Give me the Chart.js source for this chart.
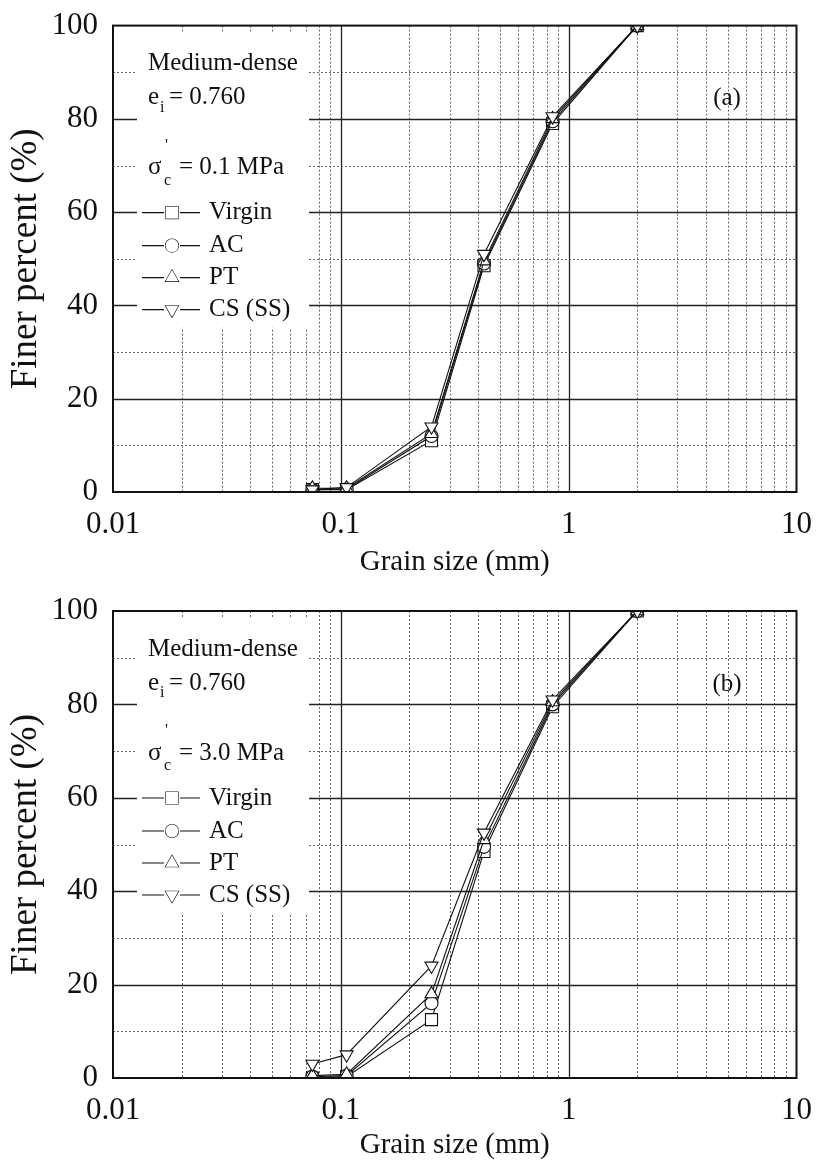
<!DOCTYPE html>
<html>
<head>
<meta charset="utf-8">
<script src="https://cdn.jsdelivr.net/npm/chart.js@4/dist/chart.umd.min.js"></script>
<style>
  html, body { margin: 0; padding: 0; background: #fff; }
  canvas { display: block; }
</style>
</head>
<body>
<canvas id="panelA" width="818" height="584"></canvas>
<canvas id="panelB" width="818" height="583"></canvas>
<script>
// grain sizes of the sieves (mm)
const grainSizes = [0.075, 0.106, 0.25, 0.425, 0.85, 2.0];
const seriesNames = ["Virgin", "AC", "PT", "CS (SS)"];

// (a) sigma'c = 0.1 MPa
const virginA = [0.5, 0.5, 11, 48.5, 79, 100];
const acA     = [0.5, 0.6, 12, 49, 79.5, 100];
const ptA     = [0.8, 0.8, 12.5, 49.5, 80, 100];
const csA     = [0.5, 1, 14, 51, 80.5, 100];

// (b) sigma'c = 3.0 MPa
const virginB = [0, 0.3, 12.5, 48.5, 79.5, 100];
const acB     = [0.3, 0.5, 16, 49.5, 80, 100];
const ptB     = [0.5, 0.8, 18, 51, 80.5, 100];
const csB     = [3, 5, 24, 52.5, 81, 100];

const xTickLabels = ["0.01", "0.1", "1", "10"];
const yTickLabels = [0, 20, 40, 60, 80, 100];

const FONT = '"Liberation Serif", "DejaVu Serif", serif';

// marker look for each series
const markers = [
  { pointStyle: "rect", radius: 8.5, rotation: 0 },
  { pointStyle: "circle", radius: 6.5, rotation: 0 },
  { pointStyle: "triangle", radius: 7.5, rotation: 0 },
  { pointStyle: "triangle", radius: 7.5, rotation: 180 }
];

// grid, white legend box, notes and frame
const notesPlugin = {
  id: "notes",
  beforeDatasetsDraw(chart, args, opts) {
    const { ctx, chartArea: a, scales } = chart;
    const xs = scales.x, ys = scales.y;
    ctx.save();
    // minor grid, dotted
    ctx.strokeStyle = "#666";
    ctx.lineWidth = 1;
    ctx.setLineDash([2, 2]);
    ctx.beginPath();
    [0.01, 0.1, 1].forEach(d => {
      for (let m = 2; m <= 9; m++) {
        const px = Math.round(xs.getPixelForValue(d * m)) + 0.5;
        ctx.moveTo(px, a.top); ctx.lineTo(px, a.bottom);
      }
    });
    [10, 30, 50, 70, 90].forEach(v => {
      const py = Math.round(ys.getPixelForValue(v)) + 0.5;
      ctx.moveTo(a.left, py); ctx.lineTo(a.right, py);
    });
    ctx.stroke();
    // major grid, solid
    ctx.setLineDash([]);
    ctx.strokeStyle = "#222";
    ctx.lineWidth = 1.3;
    ctx.beginPath();
    [0.1, 1].forEach(v => {
      const px = Math.round(xs.getPixelForValue(v)) + 0.5;
      ctx.moveTo(px, a.top); ctx.lineTo(px, a.bottom);
    });
    [20, 40, 60, 80].forEach(v => {
      const py = Math.round(ys.getPixelForValue(v)) + 0.5;
      ctx.moveTo(a.left, py); ctx.lineTo(a.right, py);
    });
    ctx.stroke();
    // white box behind the legend
    ctx.fillStyle = "#fff";
    ctx.fillRect(a.left + 24, a.top + 7, 172, 295);
    ctx.restore();
  },
  afterDatasetsDraw(chart, args, opts) {
    const { ctx, chartArea: a } = chart;
    const x0 = a.left + 35;
    ctx.save();
    ctx.fillStyle = "#111";
    ctx.textBaseline = "middle";
    ctx.textAlign = "left";
    ctx.font = "25px " + FONT;
    ctx.fillText("Medium-dense", x0, a.top + 38);
    // e_i = 0.760
    ctx.fillText("e", x0, a.top + 72);
    ctx.font = "16px " + FONT;
    ctx.fillText("i", x0 + 12, a.top + 82);
    ctx.font = "25px " + FONT;
    ctx.fillText("= 0.760", x0 + 21, a.top + 72);
    // sigma'_c
    ctx.fillText("\u03c3", x0, a.top + 142);
    ctx.font = "16px " + FONT;
    ctx.fillText("'", x0 + 17, a.top + 120);
    ctx.fillText("c", x0 + 16, a.top + 155);
    ctx.font = "25px " + FONT;
    ctx.fillText("= " + opts.sigma, x0 + 31, a.top + 142);
    // legend rows
    const rowY = [187, 220, 252, 284];
    seriesNames.forEach((name, i) => {
      const y = a.top + rowY[i];
      const cx = x0 + 24;
      ctx.strokeStyle = "#111";
      ctx.lineWidth = 1.2;
      ctx.beginPath();
      ctx.moveTo(x0 - 6, y); ctx.lineTo(cx - 8, y);
      ctx.moveTo(cx + 8, y); ctx.lineTo(x0 + 52, y);
      ctx.stroke();
      const mk = markers[i];
      ctx.fillStyle = "#fff";
      Chart.helpers.drawPoint(ctx, {
        pointStyle: mk.pointStyle, radius: mk.radius,
        rotation: mk.rotation, borderWidth: 1.2
      }, cx, y);
      ctx.fill();
      ctx.fillStyle = "#111";
      ctx.fillText(name, x0 + 61, y);
    });
    ctx.textAlign = "center";
    ctx.fillText(opts.tag, a.left + 614, a.top + 73);
    // frame
    ctx.strokeStyle = "#111";
    ctx.lineWidth = 2;
    ctx.strokeRect(a.left, a.top, a.right - a.left, a.bottom - a.top);
    ctx.restore();
  }
};

function makePanel(id, values, sigma, tag, padTop, xAxisHeight) {
  const datasets = values.map((vals, i) => ({
    label: seriesNames[i],
    data: grainSizes.map((g, k) => ({ x: g, y: vals[k] })),
    order: values.length - i,
    borderColor: "#111",
    borderWidth: 1.1,
    backgroundColor: "#fff",
    pointStyle: markers[i].pointStyle,
    pointRadius: markers[i].radius,
    pointRotation: markers[i].rotation,
    pointBorderWidth: 1.1,
    pointBorderColor: "#111",
    pointBackgroundColor: "#fff",
    tension: 0
  }));

  new Chart(document.getElementById(id), {
    type: "line",
    data: { datasets },
    plugins: [notesPlugin],
    options: {
      responsive: false,
      animation: false,
      layout: { padding: { top: padTop, right: 18, left: 0, bottom: 0 } },
      plugins: {
        legend: { display: false },
        tooltip: { enabled: false },
        notes: { sigma, tag }
      },
      scales: {
        x: {
          type: "logarithmic",
          min: 0.01,
          max: 10,
          afterBuildTicks: s => {
            s.ticks = xTickLabels.map(t => ({ value: Number(t), major: true }));
          },
          afterFit: s => { s.height = xAxisHeight; },
          grid: { display: false },
          border: { display: false },
          ticks: {
            autoSkip: false,
            maxRotation: 0,
            padding: 6,
            color: "#111",
            font: { family: FONT, size: 31 },
            callback: v => xTickLabels.find(t => Number(t) === v) || ""
          },
          title: {
            display: true,
            text: "Grain size (mm)",
            color: "#111",
            font: { family: FONT, size: 29 },
            padding: { top: 2, bottom: 4 }
          }
        },
        y: {
          min: 0,
          max: 100,
          afterBuildTicks: s => {
            s.ticks = yTickLabels.map(v => ({ value: v }));
          },
          afterFit: s => { s.width = 113; },
          grid: { display: false },
          border: { display: false },
          ticks: {
            padding: 7,
            color: "#111",
            font: { family: FONT, size: 31 }
          },
          title: {
            display: true,
            text: "Finer percent (%)",
            color: "#111",
            font: { family: FONT, size: 37 },
            padding: { top: 4, bottom: 0 }
          }
        }
      }
    }
  });
}

makePanel("panelA", [virginA, acA, ptA, csA], "0.1 MPa", "(a)", 25, 92);
makePanel("panelB", [virginB, acB, ptB, csB], "3.0 MPa", "(b)", 27, 89);
</script>
</body>
</html>
